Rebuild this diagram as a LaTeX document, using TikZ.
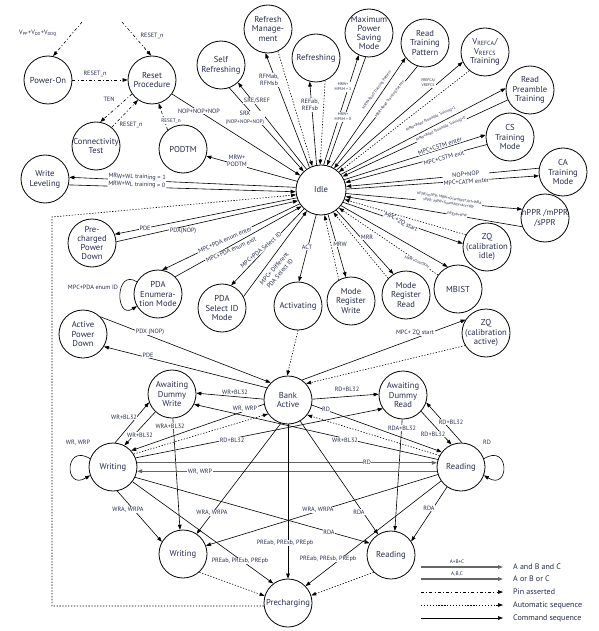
\documentclass[tikz,border=0pt]{standalone}
\usepackage{fontspec}
\setmainfont{PT Sans}
\usepackage{xcolor}
\usepackage{tikz}
\usetikzlibrary{arrows.meta, calc}
\definecolor{ink}{RGB}{38,44,74}
\tikzset{
  % State styles
  state/.style={circle, draw=black, line width=0.8pt, minimum size=48pt, inner sep=-5pt, align=center, text=ink, font=\fontsize{8.6}{9.8}\selectfont},
  bigstate/.style={state, minimum size=50pt},
  % Connector styles
  cmd/.style={-{Triangle[length=5pt, width=3.6pt]}, line width=0.6pt},
  abc/.style={cmd, line width=1.2pt, draw=black!60},
  autoseq/.style={cmd, dash pattern=on 1.3pt off 1.6pt},
  pinline/.style={cmd, dash pattern=on 3pt off 2.2pt on 1pt off 2.2pt},
  % Label styles
  lbl/.style={font=\fontsize{6.2}{7.6}\selectfont, text=ink, fill=white, inner sep=0.6pt, align=center},
  smalllbl/.style={lbl, font=\fontsize{5.2}{6.4}\selectfont},
  tinylbl/.style={lbl, font=\fontsize{3.9}{5}\selectfont},
  legtxt/.style={font=\fontsize{8}{9}\selectfont, text=ink, anchor=west, inner sep=0pt},
}

\begin{document}
\begin{tikzpicture}[x=1pt, y=-1pt]
    \useasboundingbox (0,0) rectangle (598,631);

    % Power-up and training states
    \node[state] (poweron) at (48,80) {Power-On};
    \node[state] (reset) at (152,80) {Reset\\Procedure};
    \node[state] (conn) at (96,146) {Connectivity\\Test};
    \node[state] (podtm) at (183,149) {PODTM};
    \node[state] (wlev) at (45,179) {Write\\Leveling};
    \node[state] (selfref) at (221,65) {Self\\Refreshing};
    \node[state] (rfm) at (268,29) {Refresh\\Manage-\\ment};
    \node[state] (refresh) at (316,58) {Refreshing};
    \node[state, font=\fontsize{8.6}{9.2}\selectfont] (mpsm) at (369,33) {Maximum\\Power\\Saving\\Mode};
    \node[state] (rtp) at (425,43) {Read\\Training\\Pattern};
    \node[state] (vref) at (485,52) {V\textsubscript{REFCA}/\\V\textsubscript{REFCS}\\Training};
    \node[state] (rpt) at (530,90) {Read\\Preamble\\Training};
    \node[state] (cstm) at (510,137) {CS\\Training\\Mode};
    \node[state] (catm) at (563,172) {CA\\Training\\Mode};
    \node[state] (ppr) at (545,218) {hPPR /mPPR\\/sPPR};
    \node[state] (zqidle) at (487,247) {ZQ\\(calibration\\idle)};
    \node[state] (mbist) at (458,289) {MBIST};
    \node[state] (zqact) at (486,333) {ZQ\\(calibration\\active)};

    % Idle and its neighbours
    \node[bigstate] (idle) at (321,190) {Idle};
    \node[state, font=\fontsize{8.6}{9.2}\selectfont] (pcpd) at (92,243) {Pre-\\charged\\Power\\Down};
    \node[state] (pdaenum) at (158,294) {PDA\\Enumera-\\tion Mode};
    \node[state] (pdasel) at (222,308) {PDA\\Select ID\\Mode};
    \node[state] (activating) at (298,306) {Activating};
    \node[state] (mrw) at (351,301) {Mode\\Register\\Write};
    \node[state] (mrr) at (406,295) {Mode\\Register\\Read};

    % Bank states
    \node[state] (apd) at (83,334) {Active\\Power\\Down};
    \node[state] (adw) at (172,394) {Awaiting\\Dummy\\Write};
    \node[state] (bank) at (288,400) {Bank\\Active};
    \node[state] (adr) at (403,395) {Awaiting\\Dummy\\Read};
    \node[state] (writing) at (113,467) {Writing};
    \node[state] (reading) at (461,467) {Reading};
    \node[state] (writingap) at (183,554) {Writing};
    \node[state] (readingap) at (391,555) {Reading};
    \node[state] (prech) at (288,603) {Precharging};

    % Power-up arrows
    \coordinate (supply) at (82,22);
    \coordinate (rstin) at (122,22);
    \draw[pinline] (supply) -- (poweron.78);
    \draw[pinline] (rstin) -- (reset.92);
    \draw[pinline] (poweron.0) -- (reset.180);
    \draw[pinline] (reset.215) -- (conn.80);
    \draw[pinline] (conn.50) -- (reset.235);
    \draw[pinline] (podtm.129) -- (reset.-74);
    \draw[cmd] (reset.-35) -- (idle.145);

    % Idle arrows, upper half
    \draw[cmd] (idle.160) -- (podtm.-17);
    \draw[cmd] (idle.174) -- (wlev.4);
    \draw[cmd] (wlev.-14) -- (idle.184);
    \draw[cmd] (idle.125) -- (selfref.-46);
    \draw[cmd] (selfref.-70) -- (idle.133);
    \draw[cmd] (idle.117) -- (rfm.264);
    \draw[autoseq] (rfm.294) -- (idle.110);
    \draw[cmd] (idle.100) -- (refresh.255);
    \draw[autoseq] (refresh.292) -- (idle.92);
    \draw[cmd] (idle.84) -- (mpsm.245);
    \draw[cmd] (mpsm.262) -- (idle.76);
    \draw[cmd] (idle.66) -- (rtp.217);
    \draw[cmd] (rtp.252) -- (idle.59);
    \draw[cmd] (idle.52) -- (vref.204);
    \draw[autoseq] (vref.230) -- (idle.45);
    \draw[cmd] (idle.38) -- (rpt.176);
    \draw[cmd] (rpt.204) -- (idle.32);
    \draw[cmd] (idle.24) -- (cstm.175);
    \draw[cmd] (cstm.198) -- (idle.17);
    \draw[cmd] (catm.171) -- (idle.8);
    \draw[cmd] (idle.2) -- (catm.189);

    % Idle arrows, lower half
    \draw[cmd] (idle.352) -- (ppr.159);
    \draw[cmd] (ppr.201) -- (idle.345);
    \draw[autoseq] (zqidle.150) -- (idle.338);
    \draw[cmd] (idle.331) -- (zqidle.172);
    \draw[cmd] (idle.322) -- (mbist.115);
    \draw[autoseq] (mbist.145) -- (idle.315);
    \draw[cmd] (idle.307) -- (mrr.121);
    \draw[autoseq] (mrr.137) -- (idle.299);
    \draw[cmd] (idle.286) -- (mrw.102);
    \draw[autoseq] (mrw.120) -- (idle.278);
    \draw[cmd] (idle.259) -- (activating.88);
    \draw[cmd] (idle.228) -- (pdasel.68);
    \draw[cmd] (pdasel.28) -- (idle.236);
    \draw[cmd] (idle.213) -- (pdaenum.80);
    \draw[cmd] (pdaenum.45) -- (idle.220);
    \draw[cmd] (pdaenum.150) .. controls +(-22,-14) and +(-22,14) .. (pdaenum.210);
    \draw[cmd] (idle.198) -- (pcpd.21);
    \draw[cmd] (pcpd.3) -- (idle.205);

    % Bank arrows
    \draw[autoseq] (activating.-90) -- (bank.92);
    \draw[cmd] (apd.45) -- (bank.135);
    \draw[cmd] (bank.150) -- (apd.-31);
    \draw[cmd] (bank.55) -- (zqact.147);
    \draw[autoseq] (zqact.211) -- (bank.42);
    \draw[cmd] (bank.178) -- (adw.2);
    \draw[cmd] (bank.2) -- (adr.178);
    \draw[cmd] (bank.190) -- (writing.42);
    \draw[autoseq] (writing.32) -- (bank.215);
    \draw[cmd] (writing.22) -- (adr.214);
    \draw[cmd] (bank.-12) -- (reading.142);
    \draw[autoseq] (reading.152) -- (bank.-38);
    \draw[cmd] (reading.162) -- (adw.-25);
    \draw[cmd] (adw.227) -- (writing.62);
    \draw[cmd] (writing.85) -- (adw.200);
    \draw[cmd] (adr.-42) -- (reading.113);
    \draw[cmd] (reading.88) -- (adr.-18);
    \draw[cmd] (adw.-88) -- (writingap.97);
    \draw[cmd] (adr.-92) -- (readingap.81);
    \draw[cmd] (writing.160) .. controls +(-26,-16) and +(-26,16) .. (writing.200);
    \draw[cmd] (reading.20) .. controls +(26,-16) and +(26,16) .. (reading.-20);
    \draw[abc] (writing.10) -- (reading.170);
    \draw[abc] (reading.190) -- (writing.-10);
    \draw[cmd] (writing.-80) -- (writingap.150);
    \draw[cmd] (bank.-107) -- (writingap.56);
    \draw[cmd] (reading.198) -- (writingap.20);
    \draw[cmd] (writing.-25) -- (readingap.151);
    \draw[cmd] (bank.-60) -- (readingap.122);
    \draw[cmd] (reading.235) -- (readingap.34);
    \draw[cmd] (bank.-90) -- (prech.90);
    \draw[cmd] (writing.-37) -- (prech.127);
    \draw[cmd] (reading.215) -- (prech.44);
    \draw[autoseq] (writingap.-48) -- (prech.163);
    \draw[autoseq] (readingap.225) -- (prech.18);

    % Back to Idle
    \coordinate (loopbl) at (52,606);
    \coordinate (looptl) at (52,217);
    \draw[autoseq] (prech.187) -- (prech.187 -| loopbl) -- (looptl) -- (idle.191);

    % Labels, power-up
    \node[lbl, fill=none] at (38,33) {V\textsubscript{PP}+V\textsubscript{DD}+V\textsubscript{DDQ}};
    \node[lbl] at (152,36) {RESET\_n};
    \node[lbl, fill=none] at (95,74) {RESET\_n};
    \node[lbl] at (109,99) {TEN};
    \node[lbl] at (131,125) {RESET\_n};
    \node[smalllbl] at (171,121) {RESET\_n};
    \node[lbl] at (199,111) {NOP+NOP+NOP};

    % Labels, upper half
    \node[lbl] at (257,101) {SRE/SREF};
    \node[lbl] at (245,118) {SRX\\{\fontsize{5.2}{6.4}\selectfont (NOP+NOP+NOP)}};
    \node[lbl] at (269,80) {RFMab,\\RFMsb};
    \node[lbl] at (310,105) {REFab,\\REFsb};
    \node[tinylbl] at (343,87) {MRW+\\MPSM = 1};
    \node[tinylbl] at (343,117) {MRW+\\MPSM = 0};
    \node[tinylbl, rotate=54] at (377,90) {MRW+Read Training Pattern};
    \node[tinylbl, rotate=52] at (390,99) {MRR+Read Training Pattern};
    \node[tinylbl] at (428,83) {VREFCA/\\VREFCS};
    \node[tinylbl, rotate=25] at (431,119) {MRW+Read Preamble Training=1};
    \node[tinylbl, rotate=25] at (441,129) {MRW+Read Preamble Training=0};
    \node[lbl, rotate=18] at (440,146) {MPC+CSTM enter};
    \node[lbl, rotate=15] at (444,158) {MPC+CSTM exit};
    \node[lbl, rotate=4] at (466,178) {NOP+NOP\\MPC+CATM enter};
    \node[lbl, rotate=-2] at (137,181) {MRW+WL training = 1\\MRW+WL training = 0};
    \node[lbl] at (237,161) {MRW+\\PODTM};

    % Labels, lower half
    \node[tinylbl, rotate=-9] at (449,201) {hPPR/mPPR: MRW+GuardKey+Act+WRA\\sPPR: MRW+GuardKey+Act+WR};
    \node[tinylbl, rotate=-9] at (457,215) {PREpb+tPW};
    \node[lbl, rotate=-27] at (401,222) {MPC+ZQ start};
    \node[tinylbl, rotate=-22] at (417,262) {MRW+GuardKey};
    \node[lbl] at (367,237) {MRR};
    \node[lbl] at (340,244) {MRW};
    \node[lbl] at (307,247) {ACT};
    \node[lbl, rotate=40] at (261,250) {MPC+PDA Select ID};
    \node[lbl, rotate=49] at (277,271) {MPC+ Different\\PDA Select ID};
    \node[lbl, rotate=24] at (225,240) {MPC+PDA enum enter};
    \node[lbl, rotate=24] at (231,250) {MPC+PDA enum exit};
    \node[lbl] at (93,287) {MPC+PDA enum ID};
    \node[lbl] at (145,228) {PDE};
    \node[lbl] at (183,231) {PDX(NOP)};

    % Labels, bank
    \node[lbl] at (150,332) {PDX (NOP)};
    \node[lbl] at (148,355) {PDE};
    \node[lbl] at (415,333) {MPC+ ZQ start};
    \node[lbl] at (235,392) {WR+BL32};
    \node[lbl] at (245,409) {WR, WRP};
    \node[lbl] at (347,389) {RD+BL32};
    \node[lbl] at (326,409) {RD};
    \node[lbl] at (232,440) {RD+BL32};
    \node[lbl] at (345,440) {WR+BL32};
    \node[lbl] at (124,417) {WR+BL32};
    \node[lbl] at (140,435) {WR+BL32};
    \node[lbl] at (170,426) {WRA+BL32};
    \node[lbl] at (402,428) {RDA+BL32};
    \node[lbl] at (451,422) {RD+BL32};
    \node[lbl] at (433,434) {RD+BL32};
    \node[lbl] at (78,443) {WR, WRP};
    \node[lbl] at (487,442) {RD};
    \node[lbl] at (367,462) {RD};
    \node[lbl] at (200,472) {WR, WRP};
    \node[lbl] at (128,510) {WRA, WRPA};
    \node[lbl] at (212,513) {WRA, WRPA};
    \node[lbl] at (318,510) {WRA, WRPA};
    \node[lbl] at (359,512) {RDA};
    \node[lbl] at (329,532) {RDA};
    \node[lbl] at (429,508) {RDA};
    \node[lbl] at (285,543) {PREab, PREsb, PREpb};
    \node[lbl] at (240,561) {PREab, PREsb, PREpb};
    \node[lbl] at (328,559) {PREab, PREsb, PREpb};

    % Legend
    \node[legtxt] (lgand) at (513,567) {A and B and C};
    \node[legtxt] (lgor) at (513,579) {A or B or C};
    \node[legtxt] (lgpin) at (513,592) {Pin asserted};
    \node[legtxt] (lgauto) at (513,605) {Automatic sequence};
    \node[legtxt] (lgcmd) at (513,618) {Command sequence};
    \coordinate (lgs1) at (421,567);
    \coordinate (lgs2) at (421,579);
    \coordinate (lgs3) at (421,592);
    \coordinate (lgs4) at (421,605);
    \coordinate (lgs5) at (421,618);
    \draw[abc] (lgs1) -- ([xshift=-10pt]lgand.west);
    \draw[abc] (lgs2) -- ([xshift=-10pt]lgor.west);
    \draw[pinline] (lgs3) -- ([xshift=-10pt]lgpin.west);
    \draw[autoseq] (lgs4) -- ([xshift=-10pt]lgauto.west);
    \draw[cmd] (lgs5) -- ([xshift=-10pt]lgcmd.west);
    \node[smalllbl, fill=none] at (457,562) {A+B+C};
    \node[smalllbl, fill=none] at (457,574) {A,B,C};
\end{tikzpicture}
\end{document}
